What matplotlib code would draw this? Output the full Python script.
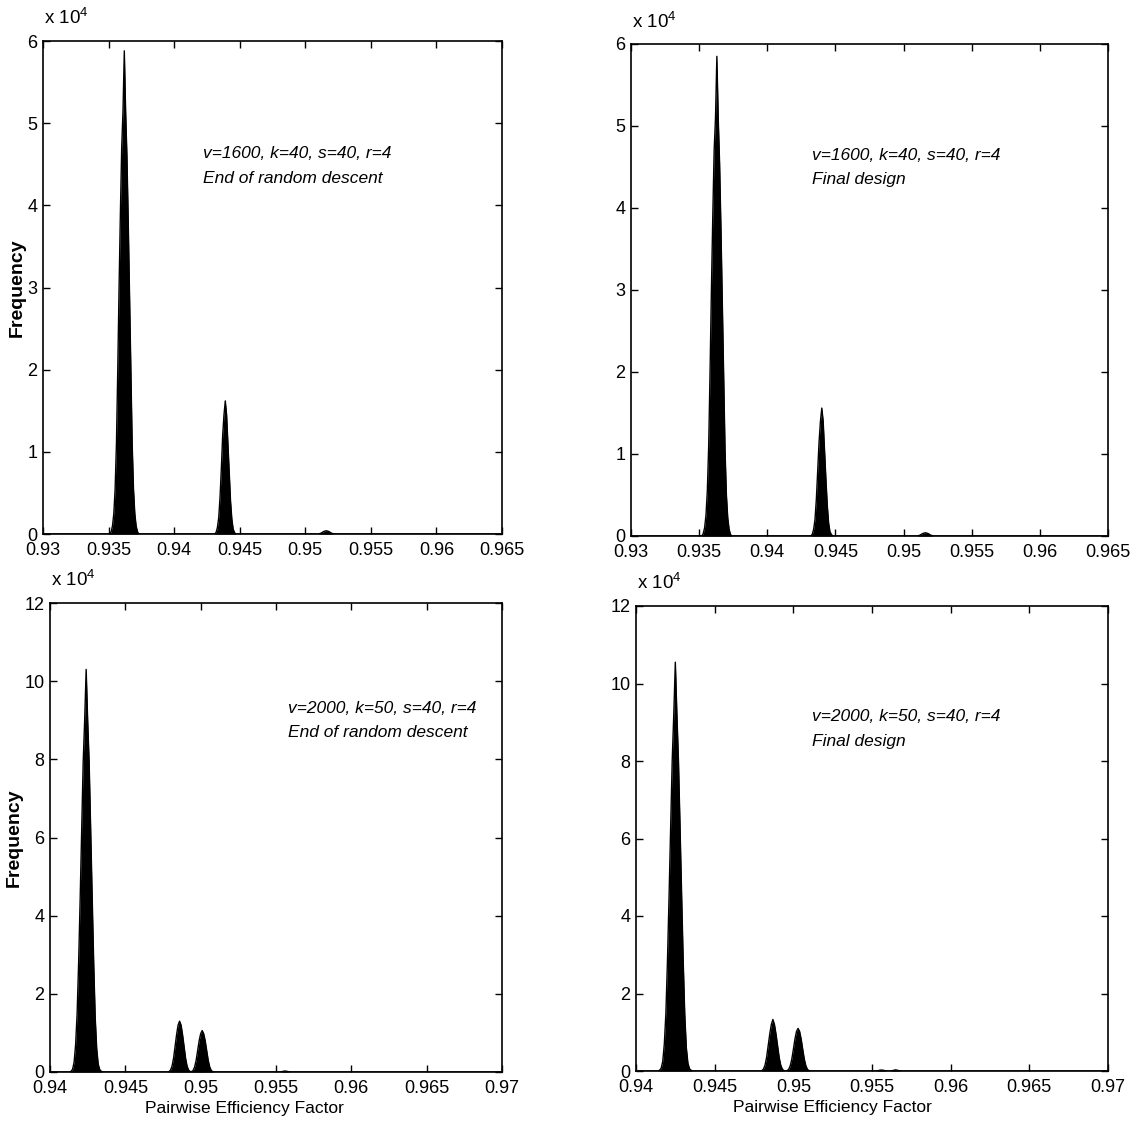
import numpy as np
import matplotlib
matplotlib.use("Agg")
import matplotlib.pyplot as plt

plt.rcParams["font.family"] = ["Liberation Sans", "DejaVu Sans"]
plt.rcParams["mathtext.fontset"] = "custom"
plt.rcParams["mathtext.rm"] = "Liberation Sans"

BIN = 0.0001  # histogram bin width

# frequencies in units of 1e4; each peak = (first bin centre, counts of consecutive bins)
tl_peaks = [
    (0.9352, [0.03, 0.1, 0.25, 0.55, 1.1, 2.0, 3.0, 3.9, 4.7, 5.15, 5.88, 5.15, 4.6, 3.8, 2.9, 2.0, 1.1, 0.55, 0.25, 0.1, 0.03]),
    (0.9432, [0.02, 0.08, 0.2, 0.45, 0.8, 1.2, 1.45, 1.62, 1.45, 1.1, 0.75, 0.4, 0.18, 0.06, 0.02]),
    (0.9511, [0.005, 0.01, 0.02, 0.03, 0.035, 0.04, 0.035, 0.03, 0.02, 0.01, 0.005]),
]
tr_peaks = [
    (0.9353, [0.03, 0.1, 0.25, 0.55, 1.1, 2.0, 3.0, 3.9, 4.7, 5.1, 5.85, 5.1, 4.55, 3.75, 2.85, 1.95, 1.05, 0.5, 0.22, 0.08, 0.02]),
    (0.9433, [0.02, 0.08, 0.2, 0.45, 0.8, 1.15, 1.4, 1.56, 1.4, 1.05, 0.7, 0.38, 0.16, 0.05, 0.02]),
    (0.9511, [0.005, 0.01, 0.02, 0.03, 0.035, 0.04, 0.035, 0.03, 0.02, 0.01, 0.005]),
]
bl_peaks = [
    (0.9414, [0.02, 0.07, 0.25, 0.7, 1.5, 2.8, 4.4, 6.2, 7.9, 9.0, 10.3, 9.0, 7.9, 6.2, 4.4, 2.8, 1.4, 0.6, 0.2, 0.06, 0.02]),
    (0.9479, [0.01, 0.05, 0.15, 0.35, 0.65, 0.95, 1.2, 1.3, 1.2, 0.95, 0.65, 0.35, 0.15, 0.05, 0.01]),
    (0.9494, [0.01, 0.04, 0.13, 0.3, 0.55, 0.8, 0.98, 1.06, 0.98, 0.8, 0.55, 0.3, 0.13, 0.04, 0.01]),
    (0.9553, [0.005, 0.01, 0.02, 0.025, 0.02, 0.01, 0.005]),
]
br_peaks = [
    (0.9415, [0.02, 0.07, 0.25, 0.7, 1.5, 2.85, 4.5, 6.3, 8.0, 9.2, 10.55, 9.2, 8.0, 6.3, 4.5, 2.85, 1.45, 0.6, 0.2, 0.06, 0.02]),
    (0.9480, [0.01, 0.05, 0.15, 0.35, 0.65, 0.95, 1.2, 1.33, 1.2, 0.95, 0.65, 0.35, 0.15, 0.05, 0.01]),
    (0.9496, [0.01, 0.04, 0.13, 0.3, 0.55, 0.82, 1.02, 1.1, 1.02, 0.82, 0.55, 0.3, 0.13, 0.04, 0.01]),
    (0.9553, [0.005, 0.01, 0.02, 0.025, 0.02, 0.01, 0.005]),
    (0.9562, [0.005, 0.01, 0.02, 0.03, 0.02, 0.01, 0.005]),
]

top_xlim = (0.93, 0.965)
bot_xlim = (0.94, 0.97)
top_xticks = [0.93, 0.935, 0.94, 0.945, 0.95, 0.955, 0.96, 0.965]
top_xticklabels = ["0.93", "0.935", "0.94", "0.945", "0.95", "0.955", "0.96", "0.965"]
bot_xticks = [0.94, 0.945, 0.95, 0.955, 0.96, 0.965, 0.97]
bot_xticklabels = ["0.94", "0.945", "0.95", "0.955", "0.96", "0.965", "0.97"]
top_yticks = [0, 1, 2, 3, 4, 5, 6]
bot_yticks = [0, 2, 4, 6, 8, 10, 12]

label_top = "v=1600, k=40, s=40, r=4"
label_bot = "v=2000, k=50, s=40, r=4"
stage_left = "End of random descent"
stage_right = "Final design"


def build_hist(xlim, peaks):
    n = int(round((xlim[1] - xlim[0]) / BIN)) + 1
    bins = xlim[0] + np.arange(n) * BIN
    counts = np.zeros(n)
    for start, vals in peaks:
        i0 = int(round((start - xlim[0]) / BIN))
        counts[i0:i0 + len(vals)] += vals
    return bins, counts


W, H = 1141, 1123
fig = plt.figure(figsize=(W / 100, H / 100), dpi=100)


def px_axes(x0, y0, x1, y1):
    return fig.add_axes([x0 / W, 1 - y1 / H, (x1 - x0) / W, (y1 - y0) / H])


panels = [
    (px_axes(43, 41, 502, 534), top_xlim, tl_peaks, top_xticks, top_xticklabels, top_yticks,
     label_top, stage_left, (0.349, 0.787), True, None),
    (px_axes(631, 44, 1108, 536), top_xlim, tr_peaks, top_xticks, top_xticklabels, top_yticks,
     label_top, stage_right, (0.379, 0.789), False, None),
    (px_axes(50, 603, 502, 1072), bot_xlim, bl_peaks, bot_xticks, bot_xticklabels, bot_yticks,
     label_bot, stage_left, (0.527, 0.792), True, 0.431),
    (px_axes(636, 606, 1108, 1071), bot_xlim, br_peaks, bot_xticks, bot_xticklabels, bot_yticks,
     label_bot, stage_right, (0.373, 0.778), False, 0.417),
]

for ax, xlim, peaks, xt, xtl, yt, lab, stage, tpos, ylab, xlab_x in panels:
    bins, counts = build_hist(xlim, peaks)
    ax.fill_between(bins, counts, 0, color="black", lw=0)
    ax.plot(bins, counts, color="black", lw=1.0)
    ax.set_xlim(xlim)
    ax.set_ylim(yt[0], yt[-1])
    ax.set_xticks(xt)
    ax.set_xticklabels(xtl)
    ax.set_yticks(yt)
    ax.tick_params(direction="in", length=5, width=1, top=True, right=True,
                   labelsize=13)
    ax.tick_params(axis="x", pad=6)
    ax.tick_params(axis="y", pad=4)
    for sp in ax.spines.values():
        sp.set_linewidth(1.2)
    ax.text(tpos[0], tpos[1], lab + "\n" + stage, transform=ax.transAxes,
            fontsize=12.5, style="italic", va="top", ha="left", linespacing=1.8)
    ax.annotate(r"x 10$^{\mathregular{4}}$", xy=(0, 1), xycoords="axes fraction",
                xytext=(1, 9), textcoords="offset points", fontsize=13.5,
                ha="left", va="bottom")
    if ylab:
        ax.set_ylabel("Frequency", fontsize=14, fontweight="bold", labelpad=1)
    if xlab_x is not None:
        ax.set_xlabel("Pairwise Efficiency Factor", fontsize=12.5)
        ax.xaxis.set_label_coords(xlab_x, -0.062)

fig.savefig("out.png", dpi=100)
